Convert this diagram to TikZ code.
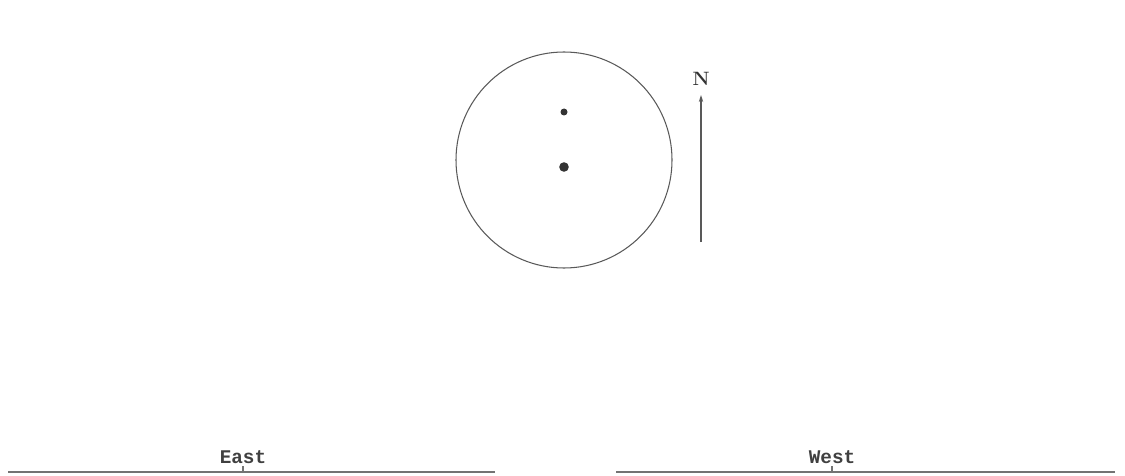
\documentclass[tikz,border=0pt]{standalone}
\usepackage{fontspec}
\newfontfamily\dirfont{Liberation Mono}
\usetikzlibrary{arrows.meta}
\begin{document}
\begin{tikzpicture}[x=0.02cm,y=-0.02cm,
  outline/.style={draw=black!65,line width=0.6pt},
  ground/.style={draw=black!55,line width=1.1pt},
  dotmark/.style={fill=black!80},
  dirlabel/.style={font=\dirfont\bfseries\fontsize{11}{13}\selectfont,text=black!75,inner sep=0pt,anchor=base},
  northlabel/.style={font=\bfseries\fontsize{11}{13}\selectfont,text=black!80,inner sep=0pt}]
\useasboundingbox (0,0) rectangle (1125,476);
% sky circle
\coordinate (c) at (564,160);
\draw[outline] (c) circle (108);
\fill[dotmark] (564,112) circle (3.5);
\fill[dotmark] (564,167) circle (4.8);
% north arrow
\coordinate (ns) at (701,242);
\coordinate (ne) at (701,95);
\draw[outline,-{Stealth[length=4pt,width=2.5pt]}] (ns) -- (ne);
\node[northlabel] (N) at (701,79) {N};
% horizon lines
\coordinate (l1) at (8,472);
\coordinate (l2) at (495,472);
\coordinate (r1) at (616,472);
\coordinate (r2) at (1115,472);
\draw[ground] (l1) -- (l2);
\draw[ground] (r1) -- (r2);
\coordinate (et) at (243,466);
\coordinate (eb) at (243,472);
\coordinate (wt) at (832,466);
\coordinate (wb) at (832,472);
\draw[ground] (et) -- (eb);
\draw[ground] (wt) -- (wb);
\node[dirlabel] (east) at (243,463) {East};
\node[dirlabel] (west) at (832,463) {West};
\end{tikzpicture}
\end{document}
